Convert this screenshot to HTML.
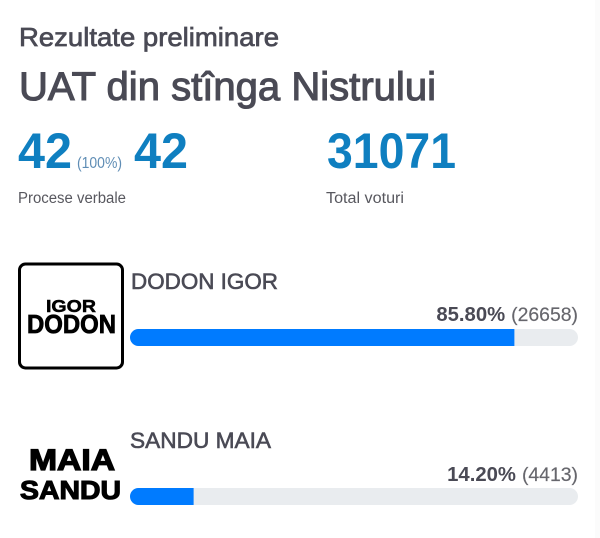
<!DOCTYPE html>
<html lang="ro">
<head>
<meta charset="utf-8">
<title>Rezultate preliminare</title>
<style>
html,body{margin:0;padding:0;background:#fff;width:600px;height:538px;overflow:hidden}
svg{display:block}
text{font-family:"Liberation Sans",sans-serif}
.head{fill:#4a4a55;stroke:#4a4a55;stroke-width:.7}
.num{fill:#0f7fc0;font-weight:700}
.sub{fill:#58585f;font-size:15.5px}
.logo{fill:#000;font-weight:700;stroke:#000}
</style>
</head>
<body>
<svg id="chart" xmlns="http://www.w3.org/2000/svg" width="600" height="538" viewBox="0 0 600 538">
  <rect x="595" y="0" width="5" height="538" fill="#fbfbfb"/>
  <text class="head" x="19" y="46" font-size="26" textLength="260" lengthAdjust="spacingAndGlyphs">Rezultate preliminare</text>
  <text class="head" x="19" y="100" font-size="40" textLength="417" lengthAdjust="spacingAndGlyphs" style="stroke-width:1.1">UAT din stînga Nistrului</text>

  <text class="num" x="18" y="168" font-size="50" textLength="54" lengthAdjust="spacingAndGlyphs">42</text>
  <text x="77" y="168" font-size="16" fill="#5f8db5" textLength="45" lengthAdjust="spacingAndGlyphs">(100%)</text>
  <text class="num" x="134" y="168" font-size="50" textLength="54" lengthAdjust="spacingAndGlyphs">42</text>
  <text class="num" x="327" y="168" font-size="50" textLength="129" lengthAdjust="spacingAndGlyphs">31071</text>
  <text class="sub" x="18" y="203" textLength="108" lengthAdjust="spacingAndGlyphs">Procese verbale</text>
  <text class="sub" x="326" y="203" textLength="78" lengthAdjust="spacingAndGlyphs">Total voturi</text>

  <g>
    <rect x="19.5" y="264" width="103" height="104" rx="6" fill="#fff" stroke="#000" stroke-width="3"/>
    <text class="logo" x="46" y="312" font-size="17.5" stroke-width=".5" textLength="50" lengthAdjust="spacingAndGlyphs">IGOR</text>
    <text class="logo" x="27" y="333" font-size="26" stroke-width=".8" textLength="89" lengthAdjust="spacingAndGlyphs">DODON</text>
  </g>
  <g>
    <text class="logo" x="29" y="470" font-size="30" stroke-width="1.3" textLength="86" lengthAdjust="spacingAndGlyphs">MAIA</text>
    <text class="logo" x="20" y="499" font-size="25.5" stroke-width="1.1" textLength="101" lengthAdjust="spacingAndGlyphs">SANDU</text>
  </g>
</svg>
<script>
var candidates = ["DODON IGOR", "SANDU MAIA"];
var percents = [85.80, 14.20];
var votes = [26658, 4413];

var NS = "http://www.w3.org/2000/svg";
var chart = document.getElementById("chart");
var trackLeft = 130, trackWidth = 448, barHeight = 17;
var rowTops = [329, 488], nameBaselines = [289, 448], valueBaselines = [321, 481];
var nameLengths = [147, 141];

function xScale(p) { return trackWidth * p / 100; }

function svgEl(tag, attrs) {
  var el = document.createElementNS(NS, tag);
  for (var k in attrs) { el.setAttribute(k, attrs[k]); }
  return el;
}

var defs = svgEl("defs", {});
chart.appendChild(defs);

candidates.forEach(function (name, i) {
  var y = rowTops[i];

  var nameText = svgEl("text", {x: i === 0 ? 131 : 130, y: nameBaselines[i], "font-size": 22.5, fill: "#4a4a55", stroke: "#4a4a55", "stroke-width": ".6", textLength: nameLengths[i], lengthAdjust: "spacingAndGlyphs"});
  
  
  nameText.textContent = name;
  chart.appendChild(nameText);

  var voteText = svgEl("text", {x: 578, y: valueBaselines[i], "font-size": 19.4, fill: "#66666c", stroke: "#66666c", "stroke-width": ".15", "text-anchor": "end"});
  
  
  voteText.textContent = "(" + votes[i] + ")";
  chart.appendChild(voteText);

  var percentText = svgEl("text", {x: 578 - voteText.getComputedTextLength() - 6, y: valueBaselines[i], "font-size": 20.3, "font-weight": 700, fill: "#4a4a55", "text-anchor": "end"});
  
  
  percentText.textContent = percents[i].toFixed(2) + "%";
  chart.appendChild(percentText);

  var clip = svgEl("clipPath", {id: "track-clip-" + i});
  clip.appendChild(svgEl("rect", {x: trackLeft, y: y, width: trackWidth, height: barHeight, rx: 8.5}));
  defs.appendChild(clip);

  var track = svgEl("rect", {x: trackLeft, y: y, width: trackWidth, height: barHeight, rx: 8.5, fill: "#e9ecef"});
  
  
  chart.appendChild(track);

  var bar = svgEl("rect", {x: trackLeft, y: y, width: xScale(percents[i]), height: barHeight, fill: "#007bff", "clip-path": "url(#track-clip-" + i + ")"});
  
  
  chart.appendChild(bar);
});
</script>
</body>
</html>
